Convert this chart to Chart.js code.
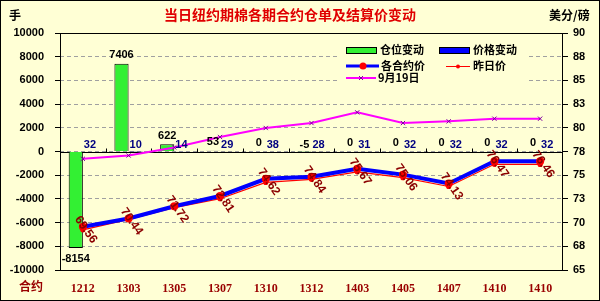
<!DOCTYPE html>
<html><head><meta charset="utf-8">
<script src="https://cdn.jsdelivr.net/npm/chart.js@4.4.0/dist/chart.umd.min.js"></script>
<style>html,body{margin:0;padding:0;background:#FFFFD5;}#wrap{width:600px;height:301px;position:relative}</style>
</head><body><div id="wrap"><canvas id="c" width="600" height="301"></canvas></div>
<script>
const categories = ['1212','1303','1305','1307','1310','1312','1403','1405','1407','1410','1410'];
const positionChange = [-8154, 7406, 622, 53, 0, -5, 0, 0, 0, 0, 0];
const priceChange = [32, 10, 14, 29, 38, 28, 31, 32, 32, 32, 32];
const settlePrice = [69.56, 70.44, 71.72, 72.81, 74.62, 74.84, 75.67, 75.06, 74.13, 76.47, 76.46];
const prevPrice = [69.24, 70.34, 71.58, 72.52, 74.24, 74.56, 75.36, 74.74, 73.81, 76.15, 76.14];
const sep19Price = [76.73, 77.08, 77.93, 79.03, 79.98, 80.50, 81.63, 80.50, 80.68, 80.96, 80.96];
const seriesNames = ['仓位变动', '价格变动', '各合约价', '昨日价', '9月19日'];
const titleText = '当日纽约期棉各期合约仓单及结算价变动';

const BG = '#FFFFD5';
const NUM = '"Liberation Sans", Arial, sans-serif';
const CJK = '"Noto Sans CJK SC", sans-serif';

const decor = {
  id: 'decor',
  beforeDraw(chart) {
    const c = chart.ctx;
    c.save(); c.fillStyle = BG; c.fillRect(0, 0, chart.width, chart.height); c.restore();
  },
  beforeDatasetsDraw(chart) {
    const c = chart.ctx, a = chart.chartArea, y = chart.scales.y;
    c.save();
    const y0 = Math.round(y.getPixelForValue(0)) + 0.5;
    c.strokeStyle = '#000'; c.lineWidth = 1;
    c.beginPath(); c.moveTo(a.left, y0); c.lineTo(a.right, y0); c.stroke();
    const n = categories.length, w = (a.right - a.left) / n;
    c.beginPath();
    for (let i = 1; i < n; i++) {
      const px = Math.round(a.left + i * w) + 0.5;
      c.moveTo(px, y0); c.lineTo(px, y0 - 4);
    }
    c.stroke();
    c.restore();
  },
  afterDatasetsDraw(chart) {
    const c = chart.ctx;
    const m0 = chart.getDatasetMeta(0), m1 = chart.getDatasetMeta(1), m2 = chart.getDatasetMeta(2);
    c.save();
    c.font = 'bold 11px ' + NUM;
    c.textAlign = 'center';
    m0.data.forEach((el, i) => {
      const v = positionChange[i];
      c.fillStyle = '#000';
      if (v < -100) { c.textBaseline = 'top'; c.fillText(String(v), el.x, el.y + 5); }
      else if (v < 0) { c.textBaseline = 'bottom'; c.fillText(String(v), el.x, el.base - 2); }
      else { c.textBaseline = 'bottom'; c.fillText(String(v), el.x, el.y - 3); }
    });
    m1.data.forEach((el, i) => {
      c.fillStyle = '#000080';
      c.textBaseline = 'bottom';
      c.fillText(String(priceChange[i]), el.x, el.y - 1);
    });
    c.fillStyle = '#8B0000';
    c.textBaseline = 'middle';
    c.font = 'bold 12px ' + NUM;
    m2.data.forEach((el, i) => {
      c.save();
      c.translate(el.x + 3, el.y + 3);
      c.rotate(55 * Math.PI / 180);
      c.fillText(settlePrice[i].toFixed(2), 0, 0);
      c.restore();
    });
    c.restore();
  },
  afterDraw(chart) {
    const c = chart.ctx, a = chart.chartArea;
    c.save();
    c.strokeStyle = '#000'; c.lineWidth = 1;
    c.strokeRect(Math.round(a.left) + 0.5, Math.round(a.top) + 0.5, Math.round(a.right - a.left) - 1, Math.round(a.bottom - a.top));
    c.strokeRect(0.5, 0.5, chart.width - 1, chart.height - 1);
    c.textBaseline = 'middle';
    c.textAlign = 'center';
    c.font = 'bold 14px ' + CJK;
    c.fillStyle = '#E00000';
    c.fillText(titleText, 290, 15);
    c.fillStyle = '#000';
    c.font = 'bold 12px ' + CJK;
    c.textAlign = 'left';
    c.fillText('手', 9, 15);
    c.fillText('美分/磅', 549, 15);
    c.fillStyle = '#990000';
    c.fillText('合约', 19, 286);
    c.fillStyle = BG;
    c.fillRect(340, 39, 188, 48);
    const ds = chart.data.datasets;
    c.font = 'bold 11px ' + CJK;
    c.fillStyle = ds[0].backgroundColor; c.fillRect(346, 47, 30, 6);
    c.strokeStyle = '#000'; c.strokeRect(346.5, 47.5, 30, 6);
    c.fillStyle = '#000'; c.fillText(seriesNames[0], 380, 50);
    c.fillStyle = ds[1].backgroundColor; c.fillRect(439, 47, 30, 6);
    c.strokeRect(439.5, 47.5, 30, 6);
    c.fillStyle = '#000'; c.fillText(seriesNames[1], 473, 50);
    c.strokeStyle = ds[2].borderColor; c.lineWidth = 3;
    c.beginPath(); c.moveTo(346, 66); c.lineTo(379, 66); c.stroke();
    c.fillStyle = '#FF0000'; c.beginPath(); c.arc(363, 66, 3.5, 0, Math.PI * 2); c.fill();
    c.fillStyle = '#000'; c.fillText(seriesNames[2], 381, 66);
    c.strokeStyle = ds[3].borderColor; c.lineWidth = 1;
    c.beginPath(); c.moveTo(446, 66.5); c.lineTo(470, 66.5); c.stroke();
    c.fillStyle = '#FF0000'; c.beginPath(); c.arc(458, 66.5, 2, 0, Math.PI * 2); c.fill();
    c.fillStyle = '#000'; c.fillText(seriesNames[3], 473, 66);
    c.strokeStyle = ds[4].borderColor; c.lineWidth = 2;
    c.beginPath(); c.moveTo(346, 78); c.lineTo(376, 78); c.stroke();
    c.strokeStyle = '#8000A0'; c.lineWidth = 1;
    c.beginPath(); c.moveTo(359, 76); c.lineTo(363, 80); c.moveTo(363, 76); c.lineTo(359, 80); c.stroke();
    c.fillStyle = '#000'; c.fillText(seriesNames[4], 378, 78);
    c.restore();
  }
};

new Chart(document.getElementById('c'), {
  data: {
    labels: categories,
    datasets: [
      { type: 'bar', label: seriesNames[0], data: positionChange, backgroundColor: '#33F033', borderColor: '#000', borderWidth: 1, yAxisID: 'y', order: 10 },
      { type: 'bar', label: seriesNames[1], data: priceChange, backgroundColor: '#0000FF', borderColor: '#000', borderWidth: 1, yAxisID: 'y', order: 10 },
      { type: 'line', label: seriesNames[2], data: settlePrice, borderColor: '#0000FF', borderWidth: 4, pointRadius: 4, pointBackgroundColor: '#FF0000', pointBorderColor: '#FF0000', pointBorderWidth: 0, yAxisID: 'y1', order: 1, tension: 0 },
      { type: 'line', label: seriesNames[3], data: prevPrice, borderColor: '#FF0000', borderWidth: 1.2, pointRadius: 2, pointBackgroundColor: '#FF0000', pointBorderColor: '#FF0000', yAxisID: 'y1', order: 2, tension: 0 },
      { type: 'line', label: seriesNames[4], data: sep19Price, borderColor: '#FF00FF', borderWidth: 2, pointStyle: 'crossRot', pointRadius: 3, pointBorderColor: '#8000A0', pointBorderWidth: 1, yAxisID: 'y1', order: 3, tension: 0 }
    ]
  },
  options: {
    responsive: false, animation: false, devicePixelRatio: 1,
    layout: { padding: { top: 33, left: 0, right: 0, bottom: 0 } },
    plugins: { legend: { display: false }, tooltip: { enabled: false }, title: { display: false } },
    datasets: { bar: { categoryPercentage: 0.62, barPercentage: 1 } },
    scales: {
      x: {
        type: 'category', offset: true,
        grid: { display: false }, border: { display: false },
        ticks: { color: '#990000', font: { family: '"Liberation Serif", serif', size: 12, weight: 'bold' }, padding: 4, maxRotation: 0, autoSkip: false },
        afterFit(s) { s.height = 31; }
      },
      y: {
        position: 'left', min: -10000, max: 10000,
        ticks: { stepSize: 2000, color: '#000', font: { family: NUM, size: 11, weight: 'bold' }, padding: 11, callback: v => String(v) },
        grid: { color: '#A0A0A0', tickColor: '#000', tickLength: 5 },
        border: { display: false, dash: [4, 3] },
        afterFit(s) { s.width = 60; }
      },
      y1: {
        position: 'right', min: 65, max: 90,
        ticks: { stepSize: 2.5, color: '#000', font: { family: NUM, size: 11, weight: 'bold' }, padding: 5, callback: v => String(Math.round(v)) },
        grid: { drawOnChartArea: false, tickColor: '#000', tickLength: 5 },
        border: { display: false },
        afterFit(s) { s.width = 37; }
      }
    }
  },
  plugins: [decor]
});
</script></body></html>
